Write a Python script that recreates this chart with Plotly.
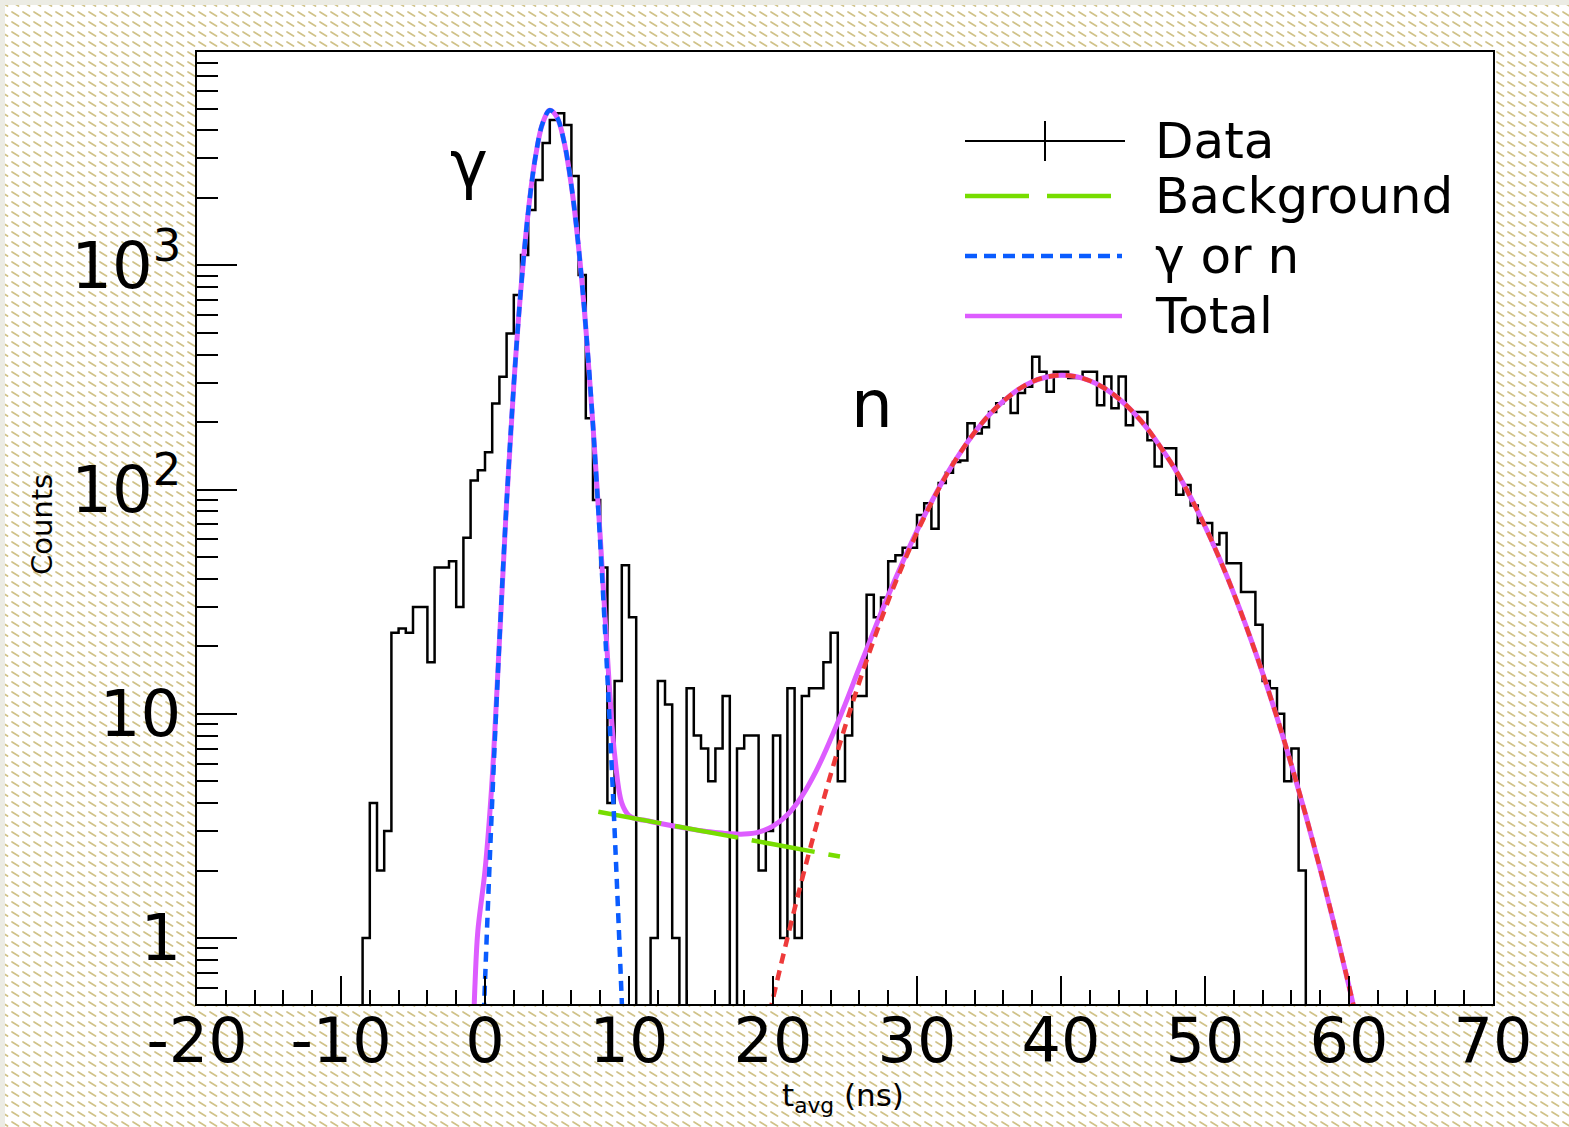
import base64
import numpy as np
import plotly.graph_objects as go

W, H = 1569, 1127

# ---------------- data ----------------
bin_width = 0.5
first_edge = -9.0
counts = [0, 1, 4, 2, 3, 23, 24, 23, 30, 30, 17, 45, 45, 48, 30, 61,
          110, 122, 147, 242, 319, 497, 738, 1112, 1766, 2405, 3513, 4450,
          4770, 4230, 2505, 906, 208, 90, 45, 4, 14, 46, 27, 0, 0, 1, 14, 11,
          1, 0, 13, 8, 7, 5, 7, 12, 0, 7, 8, 8, 2, 3, 8, 1, 13, 1, 12, 13, 13,
          17, 23, 5, 8, 12, 12, 34, 27, 33, 48, 51, 55, 55, 77, 87, 67, 107,
          119, 133, 135, 198, 178, 190, 222, 243, 255, 220, 270, 288, 392, 336,
          273, 336, 336, 315, 315, 336, 336, 238, 320, 231, 320, 194, 222, 222,
          166, 127, 153, 153, 95, 105, 85, 71, 71, 57, 64, 47, 47, 35, 35, 25,
          14, 13, 10, 5, 7, 2, 0]

# gamma fit (blue dotted)
gamma_t = [-0.5, 0.0, 0.5, 1.0, 1.5, 2.0, 2.5, 3.0, 3.5, 4.0, 4.5, 5.0, 5.5,
           6.0, 6.5, 7.0, 7.5, 8.0, 8.5, 9.0, 9.5, 10.0]
gamma_v = [0.081, 0.638, 4.08, 21.0, 87.5, 294, 794, 1730, 3040, 4306, 4920,
           4581, 3540, 2266, 1202, 528, 193, 58, 14.6, 3.02, 0.52, 0.074]

# neutron fit (red dotted)
neut_t = [19.5, 20, 21, 22, 23, 24, 25, 26, 27, 28, 29, 30, 31, 32, 33, 34,
          35, 36, 37, 38, 39, 40, 41, 42, 43, 44, 45, 46, 47, 48, 49, 50, 51,
          52, 53, 54, 55, 56, 57, 58, 59, 60, 61]
neut_v = [0.39, 0.538, 1.00, 1.81, 3.16, 5.35, 8.75, 13.9, 21.4, 31.9, 46.0,
          64.4, 87.3, 115, 146, 180, 215, 248, 279, 303, 318, 324, 320, 306,
          284, 255, 222, 187, 152, 121, 92.5, 68.7, 49.4, 34.4, 23.2, 15.2,
          9.64, 5.92, 3.52, 2.03, 1.13, 0.61, 0.32]

# background (green long dash)
bkg_t = [7.87, 10, 12, 14, 16, 18, 20, 22, 24, 24.65]
bkg_v = [3.66, 3.45, 3.26, 3.09, 2.93, 2.77, 2.62, 2.48, 2.35, 2.31]

# total (violet solid)
tot_t = [-0.8, -0.69, -0.5, 0.0, 0.46, 1.0, 1.5, 2.0, 2.5, 3.0, 3.5, 4.0, 4.5,
         5.0, 5.5, 6.0, 6.5, 7.0, 7.5, 8.0, 8.5, 9.0, 9.5, 10.0, 10.5, 11, 12,
         13, 14, 15, 16, 17, 18, 19, 20, 21, 22, 23, 24, 25, 26, 27, 28, 29,
         30, 31, 32, 33, 34, 35, 36, 37, 38, 39, 40, 41, 42, 43, 44, 45, 46,
         47, 48, 49, 50, 51, 52, 53, 54, 55, 56, 57, 58, 59, 60, 61]
tot_v = [0.4, 0.63, 1.07, 2.0, 4.7, 21, 87.5, 294, 794, 1730, 3040, 4306,
         4920, 4581, 3540, 2266, 1202, 528, 193, 62, 18.2, 6.6, 4.0, 3.52,
         3.40, 3.36, 3.26, 3.17, 3.09, 3.01, 2.96, 2.92, 2.91, 2.97, 3.16,
         3.55, 4.29, 5.57, 7.7, 11.0, 16.1, 23.4, 33.7, 47.5, 65.6, 88.1, 115.4,
         146, 180, 215, 248, 279, 303, 318, 324, 320, 306, 284, 255, 222, 187,
         152, 121, 92.5, 68.7, 49.4, 34.4, 23.2, 15.2, 9.64, 5.92, 3.52, 2.03,
         1.13, 0.61, 0.32]

x_tickvals = [-20, -10, 0, 10, 20, 30, 40, 50, 60, 70]
y_tickvals = [1, 10, 100, 1000]
y_ticktext = ["1", "10", "10<sup>2</sup>", "10<sup>3</sup>"]
y_minor = [0.6, 0.7, 0.8, 0.9] + [m * d for d in (1, 10, 100, 1000)
                                  for m in range(2, 10)]

legend_labels = ["Data", "Background", "\u03b3 or n", "Total"]

# ---------------- colours / styles ----------------
C_DATA = "#000000"
C_BKG = "#77dd00"
C_GAM = "#0a5cff"
C_NEU = "#ee3a3a"
C_TOT = "#dd5cff"
FONT = "DejaVu Sans"

# plot-area pixel box
PL, PR, PT, PB = 197, 1493, 52, 1004


def fx(p):
    return p / W


def fy(p):
    return 1 - p / H


# ---------------- hatched canvas background ----------------
svg = f'''<svg xmlns="http://www.w3.org/2000/svg" width="{W}" height="{H}" viewBox="0 0 {W} {H}" preserveAspectRatio="none">
<defs><pattern id="h" x="0" y="0" width="11" height="10" patternUnits="userSpaceOnUse">
<rect width="11" height="10" fill="#ffffff"/>
<line x1="1" y1="2" x2="7.5" y2="6" stroke="#d0c288" stroke-width="1.7" stroke-linecap="round"/>
</pattern></defs>
<rect width="{W}" height="{H}" fill="#ecece4"/>
<rect x="5" y="5" width="{W-5}" height="{H-5}" fill="url(#h)"/>
</svg>'''
svg_uri = "data:image/svg+xml;base64," + base64.b64encode(svg.encode()).decode()

fig = go.Figure()

# dummy full-page subplot (lets the plot area keep its own white background)
fig.add_trace(go.Scatter(x=[None], y=[None], xaxis="x", yaxis="y",
                         showlegend=False, hoverinfo="skip"))

# histogram as steps
edges = first_edge + bin_width * np.arange(len(counts) + 1)
hy = [c if c > 0 else 0.01 for c in counts] + [counts[-1] if counts[-1] > 0 else 0.01]
fig.add_trace(go.Scatter(x=edges, y=hy, mode="lines", line_shape="hv",
                         line=dict(color=C_DATA, width=2.5),
                         xaxis="x2", yaxis="y2", showlegend=False))

fig.add_trace(go.Scatter(x=tot_t, y=tot_v, mode="lines",
                         line=dict(color=C_TOT, width=5, shape="spline"),
                         xaxis="x2", yaxis="y2", showlegend=False))
fig.add_trace(go.Scatter(x=bkg_t, y=bkg_v, mode="lines",
                         line=dict(color=C_BKG, width=4.5, dash="64px,14px"),
                         xaxis="x2", yaxis="y2", showlegend=False))
fig.add_trace(go.Scatter(x=gamma_t, y=gamma_v, mode="lines",
                         line=dict(color=C_GAM, width=4.5, dash="10px,7px",
                                   shape="spline"),
                         xaxis="x2", yaxis="y2", showlegend=False))
fig.add_trace(go.Scatter(x=neut_t, y=neut_v, mode="lines",
                         line=dict(color=C_NEU, width=4.5, dash="10px,7px",
                                   shape="spline"),
                         xaxis="x2", yaxis="y2", showlegend=False))

# ---------------- manual legend ----------------
shapes = []
ann = []
leg_y = [141, 196, 256, 316]
lx0, lx1 = 965, 1122
shapes.append(dict(type="line", xref="paper", yref="paper", x0=fx(lx0), x1=fx(1125),
                   y0=fy(leg_y[0]), y1=fy(leg_y[0]), line=dict(color=C_DATA, width=2)))
shapes.append(dict(type="line", xref="paper", yref="paper", x0=fx(1045), x1=fx(1045),
                   y0=fy(leg_y[0] - 20), y1=fy(leg_y[0] + 20), line=dict(color=C_DATA, width=2)))
shapes.append(dict(type="line", xref="paper", yref="paper", x0=fx(lx0), x1=fx(1112),
                   y0=fy(leg_y[1]), y1=fy(leg_y[1]),
                   line=dict(color=C_BKG, width=4.5, dash="64px,18px")))
shapes.append(dict(type="line", xref="paper", yref="paper", x0=fx(lx0), x1=fx(lx1),
                   y0=fy(leg_y[2]), y1=fy(leg_y[2]),
                   line=dict(color=C_GAM, width=4.5, dash="12px,7px")))
shapes.append(dict(type="line", xref="paper", yref="paper", x0=fx(lx0), x1=fx(lx1),
                   y0=fy(leg_y[3]), y1=fy(leg_y[3]),
                   line=dict(color=C_TOT, width=4.5)))
for lab, yy in zip(legend_labels, leg_y):
    ann.append(dict(text=lab, xref="paper", yref="paper", x=fx(1153), y=fy(yy),
                    xanchor="left", yanchor="middle", showarrow=False,
                    font=dict(family=FONT, size=50, color="black")))

# peak labels
ann.append(dict(text="\u03b3", xref="paper", yref="paper", x=fx(469), y=fy(165),
                xanchor="center", yanchor="middle", showarrow=False,
                font=dict(family=FONT, size=64, color="black")))
ann.append(dict(text="n", xref="paper", yref="paper", x=fx(872), y=fy(404),
                xanchor="center", yanchor="middle", showarrow=False,
                font=dict(family=FONT, size=66, color="black")))
# axis titles
ann.append(dict(text="Counts", xref="paper", yref="paper", x=fx(42), y=fy(525),
                xanchor="center", yanchor="middle", showarrow=False, textangle=-90,
                font=dict(family=FONT, size=29, color="black")))
ann.append(dict(text="t<sub>avg</sub> (ns)", xref="paper", yref="paper",
                x=fx(843), y=fy(1097), xanchor="center", yanchor="middle",
                showarrow=False, font=dict(family=FONT, size=31, color="black")))

fig.update_layout(
    width=W, height=H,
    margin=dict(l=0, r=0, t=0, b=0, pad=0, autoexpand=False),
    paper_bgcolor="white", plot_bgcolor="white",
    showlegend=False,
    images=[dict(source=svg_uri, xref="paper", yref="paper", x=0, y=1,
                 sizex=1, sizey=1, xanchor="left", yanchor="top",
                 sizing="stretch", layer="below")],
    shapes=shapes,
    annotations=ann,
    xaxis=dict(domain=[0, 1], visible=False, range=[0, 1], fixedrange=True),
    yaxis=dict(domain=[0, 1], visible=False, range=[0, 1], fixedrange=True),
    xaxis2=dict(domain=[fx(PL), fx(PR)], anchor="y2", range=[-20, 70],
                automargin=False,
                showline=True, mirror=True, linecolor="black", linewidth=2,
                showgrid=False, zeroline=False,
                ticks="inside", ticklen=28, tickwidth=2, tickcolor="black",
                tickvals=x_tickvals, ticktext=[str(v) for v in x_tickvals],
                ticklabelstandoff=-18,
                tickfont=dict(family=FONT, size=62, color="black"),
                minor=dict(dtick=2, tick0=-20, ticks="inside", ticklen=14,
                           tickwidth=2, tickcolor="black", showgrid=False)),
    yaxis2=dict(domain=[fy(PB), fy(PT)], anchor="x2", type="log",
                range=[-0.294, 3.952], automargin=False,
                showline=True, mirror=True, linecolor="black", linewidth=2,
                showgrid=False, zeroline=False,
                ticks="inside", ticklen=40, tickwidth=2, tickcolor="black",
                tickvals=y_tickvals, ticktext=y_ticktext,
                ticklabelstandoff=1,
                tickfont=dict(family=FONT, size=64, color="black"),
                minor=dict(tickvals=y_minor, ticks="inside", ticklen=21,
                           tickwidth=2, tickcolor="black", showgrid=False)),
)

fig.write_html("out.html")
